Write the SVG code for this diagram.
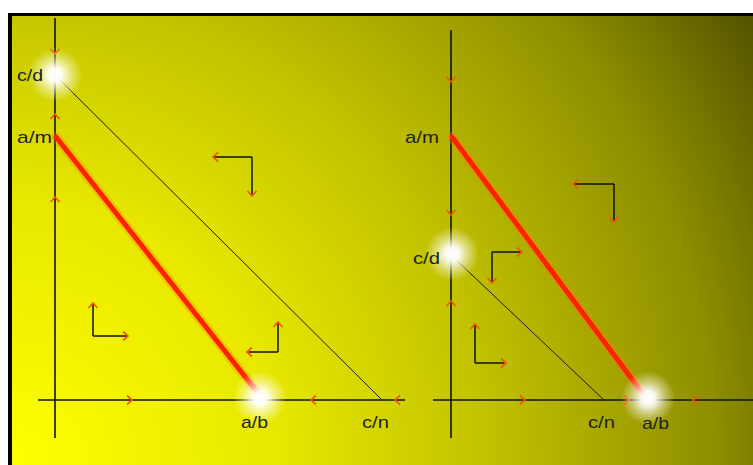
<svg xmlns="http://www.w3.org/2000/svg" width="753" height="465" viewBox="0 0 753 465">
<defs>
<radialGradient id="bg" gradientUnits="userSpaceOnUse" cx="12" cy="465" r="880">
<stop offset="0" stop-color="#ffff00"/>
<stop offset="0.3" stop-color="#e8e800"/>
<stop offset="0.55" stop-color="#c0c000"/>
<stop offset="0.8" stop-color="#8e8e00"/>
<stop offset="1" stop-color="#4e4e00"/>
</radialGradient>
<radialGradient id="glow">
<stop offset="0" stop-color="#ffffff" stop-opacity="1"/>
<stop offset="0.25" stop-color="#ffffff" stop-opacity="0.95"/>
<stop offset="0.6" stop-color="#ffffff" stop-opacity="0.45"/>
<stop offset="1" stop-color="#ffffff" stop-opacity="0"/>
</radialGradient>
<path id="chev" d="M-4,-4.5 L1,0 L-4,4.5"/>
<marker id="ah" viewBox="-7 -7 14 14" markerWidth="14" markerHeight="14" markerUnits="userSpaceOnUse" orient="auto" refX="0" refY="0">
<path d="M-5,-4.5 L0,0 L-5,4.5" fill="none" stroke="#ee5a00" stroke-width="1.7"/>
</marker>
</defs>
<style>
.axis{stroke:#111;stroke-width:1.6;fill:none}
.thin{stroke:#1a1a1a;stroke-width:1;fill:none}
.red{stroke:#ff2200;stroke-width:5;fill:none;stroke-linecap:round}
.redhalo{stroke:#ff7a00;stroke-opacity:0.3;stroke-width:10;fill:none;stroke-linecap:round}
.ell{stroke:#111;stroke-width:1.5;fill:none;marker-end:url(#ah)}
.ch{stroke:#ee5a00;stroke-width:1.7;fill:none}
.lbl{font-family:"Liberation Sans",Arial,sans-serif;font-size:17px;fill:#222}
</style>
<rect x="0" y="0" width="753" height="465" fill="#ffffff"/>
<rect x="8" y="13" width="745" height="452" fill="#000000"/>
<rect x="12" y="16" width="741" height="449" fill="url(#bg)"/>

<g id="connectors">
<line class="axis" x1="55" y1="18" x2="55" y2="438"/>
<line class="axis" x1="38" y1="400" x2="405" y2="400"/>
<line class="axis" x1="451" y1="30" x2="451" y2="438"/>
<line class="axis" x1="433" y1="400" x2="753" y2="400"/>
<line class="thin" x1="57" y1="77" x2="381" y2="399"/>
<line class="redhalo" x1="56" y1="137" x2="258" y2="393"/>
<line class="red" x1="56" y1="137" x2="258" y2="393"/>
<line class="thin" x1="452" y1="256" x2="604" y2="400"/>
<line class="redhalo" x1="452" y1="137" x2="643" y2="394"/>
<line class="red" x1="452" y1="137" x2="643" y2="394"/>
<use href="#chev" class="ch" transform="translate(55,53) rotate(90)"/>
<use href="#chev" class="ch" transform="translate(55,115) rotate(-90)"/>
<use href="#chev" class="ch" transform="translate(55,198) rotate(-90)"/>
<use href="#chev" class="ch" transform="translate(131,400)"/>
<use href="#chev" class="ch" transform="translate(312,400) rotate(180)"/>
<use href="#chev" class="ch" transform="translate(396,400) rotate(180)"/>
<use href="#chev" class="ch" transform="translate(451,81) rotate(90)"/>
<use href="#chev" class="ch" transform="translate(451,214) rotate(90)"/>
<use href="#chev" class="ch" transform="translate(451,302) rotate(-90)"/>
<use href="#chev" class="ch" transform="translate(524,400)"/>
<use href="#chev" class="ch" transform="translate(628,400)"/>
<use href="#chev" class="ch" transform="translate(694,400) rotate(180)"/>
<path class="ell" d="M93,336 L93,303"/>
<path class="ell" d="M93,336 L128,336"/>
<path class="ell" d="M278,352 L278,322"/>
<path class="ell" d="M278,352 L247,352"/>
<path class="ell" d="M252,157 L213,157"/>
<path class="ell" d="M252,157 L252,196"/>
<path class="ell" d="M614,184 L573,184"/>
<path class="ell" d="M614,184 L614,222"/>
<path class="ell" d="M492,252 L522,252"/>
<path class="ell" d="M492,252 L492,283"/>
<path class="ell" d="M475,363 L475,324"/>
<path class="ell" d="M475,363 L506,363"/>
</g>

<g id="glow-left-cd"><circle cx="55" cy="75" r="27" fill="url(#glow)"/></g>
<g id="glow-left-ab"><circle cx="260" cy="398" r="27" fill="url(#glow)"/></g>
<g id="glow-right-cd"><circle cx="452" cy="254" r="27" fill="url(#glow)"/></g>
<g id="glow-right-ab"><circle cx="648" cy="398" r="27" fill="url(#glow)"/></g>

<g id="labels-left">
<text class="lbl" x="17" y="81" textLength="26" lengthAdjust="spacingAndGlyphs">c/d</text>
<text class="lbl" x="17" y="143" textLength="35" lengthAdjust="spacingAndGlyphs">a/m</text>
<text class="lbl" x="241" y="428" textLength="27" lengthAdjust="spacingAndGlyphs">a/b</text>
<text class="lbl" x="362" y="428" textLength="27" lengthAdjust="spacingAndGlyphs">c/n</text>
</g>
<g id="labels-right">
<text class="lbl" x="405" y="143" textLength="34" lengthAdjust="spacingAndGlyphs">a/m</text>
<text class="lbl" x="413" y="264" textLength="27" lengthAdjust="spacingAndGlyphs">c/d</text>
<text class="lbl" x="588" y="428" textLength="27" lengthAdjust="spacingAndGlyphs">c/n</text>
<text class="lbl" x="642" y="429" textLength="27" lengthAdjust="spacingAndGlyphs">a/b</text>
</g>
</svg>
